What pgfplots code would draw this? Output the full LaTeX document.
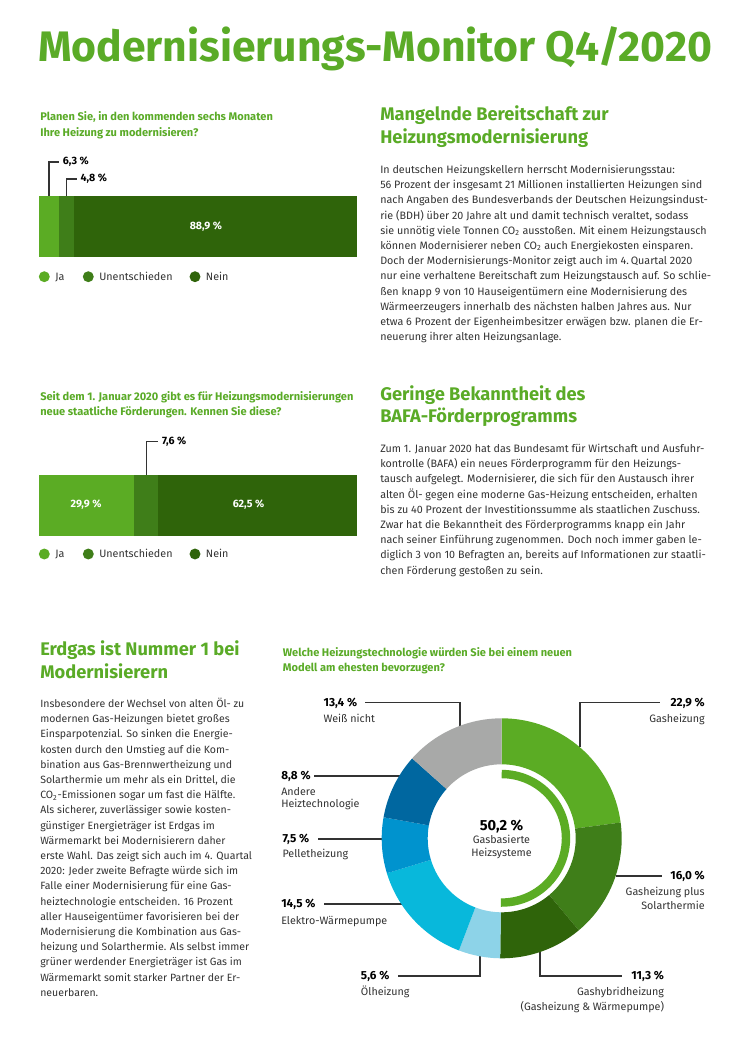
\documentclass[border=0pt]{standalone}
\usepackage{pgfplots}
\pgfplotsset{compat=1.18}
\usepackage{pgfplotstable}
\usepackage{fontspec}
\setmainfont{Fira Sans}
\definecolor{cJa}{HTML}{5BAC24}
\definecolor{cUnd}{HTML}{3F7E19}
\definecolor{cNein}{HTML}{2F640A}
\definecolor{cGas}{HTML}{5BAC24}
\definecolor{cGasSol}{HTML}{3F7E19}
\definecolor{cHyb}{HTML}{2F640A}
\definecolor{cOel}{HTML}{8DD3E8}
\definecolor{cWP}{HTML}{08B8DB}
\definecolor{cPel}{HTML}{0093CE}
\definecolor{cAnd}{HTML}{0067A0}
\definecolor{cWn}{HTML}{A8A9A8}
\definecolor{cTxt}{HTML}{333333}
\definecolor{cTitle}{HTML}{5AAB27}

\pgfplotstableread{
label value col
Gasheizung 22.9 cGas
GasSolar 16.0 cGasSol
Gashybrid 11.3 cHyb
Oel 5.6 cOel
Waermepumpe 14.5 cWP
Pellet 7.5 cPel
Andere 8.8 cAnd
Weissnicht 13.4 cWn
}\donutdata

\newcommand{\body}{\fontsize{8.05}{11.4}\selectfont\color{cTxt}}
\newcommand{\bodyL}{\fontsize{7.9}{11.4}\selectfont\color{cTxt}}
\newcommand{\qfont}{\fontsize{8.3}{11.7}\selectfont\bfseries\color{cTitle}}
\newcommand{\hfont}{\fontsize{13.7}{16.6}\selectfont\bfseries\color{cTitle}}
\newcommand{\vfont}{\fontsize{8.8}{9}\selectfont\bfseries\color{black}}
\newcommand{\bfont}{\fontsize{8}{9}\selectfont\bfseries}
\newcommand{\lfont}{\fontsize{8.05}{9}\selectfont\color{cTxt}}

\begin{document}
\begin{tikzpicture}[x=0.75pt,y=-0.75pt]
\path[use as bounding box, fill=white] (0,0) rectangle (746,1056);
\coordinate (bar1) at (39,257);
\coordinate (bar2) at (39,535.5);
\coordinate (donut) at (501.7,838.3);

% Title
\node[anchor=base west, inner sep=0, font=\fontsize{32}{36}\selectfont\bfseries, text=cTitle] at (38,62) {Modernisierungs-Monitor Q4/2020};

% ---------- Question 1 ----------
\node[anchor=base west, inner sep=0, align=left, font=\qfont] at (40,136.1) {Planen Sie, in den kommenden sechs Monaten\\Ihre Heizung zu modernisieren?};

\begin{axis}[at={(bar1)}, anchor=south west, scale only axis, width=238.5pt, height=45.75pt,
  xmin=0, xmax=100, ymin=0, ymax=1, hide axis, xbar stacked, bar width=45.75pt, clip=false]
\addplot[fill=cJa, draw=none] coordinates {(6.3,0.5)};
\addplot[fill=cUnd, draw=none] coordinates {(4.8,0.5)};
\addplot[fill=cNein, draw=none] coordinates {(88.9,0.5)};
\coordinate (l1) at (axis cs:52.5,0.5);
\draw[line width=0.9pt, cTxt] (axis cs:3.15,1) -- ++(0,25.5pt) -- ++(7.5pt,0) node[right, inner sep=2.5pt, font=\bfont, text=black] {6,3 \%};
\draw[line width=0.9pt, cTxt] (axis cs:8.7,1) -- ++(0,12.8pt) -- ++(7.5pt,0) node[right, inner sep=2.5pt, font=\bfont, text=black] {4,8 \%};
\end{axis}
\node[text=white, font=\bfont] at (l1) {88,9 \%};

% legend 1
\fill[cJa] (44.3,276.7) circle[radius=4.1pt];
\node[anchor=base west, inner sep=0, font=\lfont] at (55,280.3) {Ja};
\fill[cUnd] (88.3,276.7) circle[radius=4.1pt];
\node[anchor=base west, inner sep=0, font=\lfont] at (99,280.3) {Unentschieden};
\fill[cNein] (195,276.7) circle[radius=4.1pt];
\node[anchor=base west, inner sep=0, font=\lfont] at (205.7,280.3) {Nein};

% ---------- Question 2 ----------
\node[anchor=base west, inner sep=0, align=left, font=\qfont] at (40,415.6) {Seit dem 1. Januar 2020 gibt es für Heizungsmodernisierungen\\neue staatliche Förderungen. Kennen Sie diese?};

\begin{axis}[at={(bar2)}, anchor=south west, scale only axis, width=238.5pt, height=45.75pt,
  xmin=0, xmax=100, ymin=0, ymax=1, hide axis, xbar stacked, bar width=45.75pt, clip=false]
\addplot[fill=cJa, draw=none] coordinates {(29.9,0.5)};
\addplot[fill=cUnd, draw=none] coordinates {(7.6,0.5)};
\addplot[fill=cNein, draw=none] coordinates {(62.5,0.5)};
\coordinate (l2) at (axis cs:14.8,0.5);
\coordinate (l3) at (axis cs:65.9,0.5);
\draw[line width=0.9pt, cTxt] (axis cs:33.7,1) -- ++(0,24.8pt) -- ++(9pt,0) node[right, inner sep=2.5pt, font=\bfont, text=black] {7,6 \%};
\end{axis}
\node[text=white, font=\bfont] at (l2) {29,9 \%};
\node[text=white, font=\bfont] at (l3) {62,5 \%};

% legend 2
\fill[cJa] (44.3,554) circle[radius=4.1pt];
\node[anchor=base west, inner sep=0, font=\lfont] at (55,557.6) {Ja};
\fill[cUnd] (88.3,554) circle[radius=4.1pt];
\node[anchor=base west, inner sep=0, font=\lfont] at (99,557.6) {Unentschieden};
\fill[cNein] (195,554) circle[radius=4.1pt];
\node[anchor=base west, inner sep=0, font=\lfont] at (205.7,557.6) {Nein};

% ---------- Right column texts ----------
\node[anchor=base west, inner sep=0, align=left, font=\hfont] at (380,143.1) {Mangelnde Bereitschaft zur\\Heizungsmodernisierung};
\node[anchor=base west, inner sep=0, align=left, font=\body] at (380,340.7) {In deutschen Heizungskellern herrscht Modernisierungsstau:\\
56 Prozent der insgesamt 21 Millionen installierten Heizungen sind\\
nach Angaben des Bundesverbands der Deutschen Heizungsindust-\\
rie (BDH) über 20 Jahre alt und damit technisch veraltet, sodass\\
sie unnötig viele Tonnen CO\textsubscript{2} ausstoßen. Mit einem Heizungstausch\\
können Modernisierer neben CO\textsubscript{2} auch Energiekosten einsparen.\\
Doch der Modernisierungs-Monitor zeigt auch im 4.\,Quartal 2020\\
nur eine verhaltene Bereitschaft zum Heizungstausch auf. So schlie-\\
ßen knapp 9 von 10 Hauseigentümern eine Modernisierung des\\
Wärmeerzeugers innerhalb des nächsten halben Jahres aus. Nur\\
etwa 6 Prozent der Eigenheimbesitzer erwägen bzw. planen die Er-\\
neuerung ihrer alten Heizungsanlage.};

\node[anchor=base west, inner sep=0, align=left, font=\hfont] at (380,422.6) {Geringe Bekanntheit des\\BAFA-Förderprogramms};
\node[anchor=base west, inner sep=0, align=left, font=\body] at (380,574.1) {Zum 1. Januar 2020 hat das Bundesamt für Wirtschaft und Ausfuhr-\\
kontrolle (BAFA) ein neues Förderprogramm für den Heizungs-\\
tausch aufgelegt. Modernisierer, die sich für den Austausch ihrer\\
alten Öl- gegen eine moderne Gas-Heizung entscheiden, erhalten\\
bis zu 40 Prozent der Investitionssumme als staatlichen Zuschuss.\\
Zwar hat die Bekanntheit des Förderprogramms knapp ein Jahr\\
nach seiner Einführung zugenommen. Doch noch immer gaben le-\\
diglich 3 von 10 Befragten an, bereits auf Informationen zur staatli-\\
chen Förderung gestoßen zu sein.};

% ---------- Left bottom text ----------
\node[anchor=base west, inner sep=0, align=left, font=\hfont] at (40,678.1) {Erdgas ist Nummer 1 bei\\Modernisierern};
\node[anchor=base west, inner sep=0, align=left, font=\bodyL] at (40,996.3) {Insbesondere der Wechsel von alten Öl- zu\\
modernen Gas-Heizungen bietet großes\\
Einsparpotenzial. So sinken die Energie-\\
kosten durch den Umstieg auf die Kom-\\
bination aus Gas-Brennwertheizung und\\
Solarthermie um mehr als ein Drittel, die\\
CO\textsubscript{2}-Emissionen sogar um fast die Hälfte.\\
Als sicherer, zuverlässiger sowie kosten-\\
günstiger Energieträger ist Erdgas im\\
Wärmemarkt bei Modernisierern daher\\
erste Wahl. Das zeigt sich auch im 4. Quartal\\
2020: Jeder zweite Befragte würde sich im\\
Falle einer Modernisierung für eine Gas-\\
heiztechnologie entscheiden. 16 Prozent\\
aller Hauseigentümer favorisieren bei der\\
Modernisierung die Kombination aus Gas-\\
heizung und Solarthermie. Als selbst immer\\
grüner werdender Energieträger ist Gas im\\
Wärmemarkt somit starker Partner der Er-\\
neuerbaren.};

% ---------- Question 3 / donut ----------
\node[anchor=base west, inner sep=0, align=left, font=\qfont] at (282.7,671.6) {Welche Heizungstechnologie würden Sie bei einem neuen\\Modell am ehesten bevorzugen?};

% callout lines
\draw[line width=0.9pt, cTxt] (580,747) -- (580,702.7) -- (660,702.7);
\draw[line width=0.9pt, cTxt] (460,725.5) -- (460,702.7) -- (365,702.7);
\draw[line width=0.9pt, cTxt] (400,776) -- (314.3,776);
\draw[line width=0.9pt, cTxt] (382.5,839) -- (317.7,839);
\draw[line width=0.9pt, cTxt] (615.5,876) -- (661.7,876);
\draw[line width=0.9pt, cTxt] (401.5,904) -- (324.3,904);
\draw[line width=0.9pt, cTxt] (480,956) -- (480,976) -- (397.7,976);
\draw[line width=0.9pt, cTxt] (540,951.7) -- (540,976) -- (621.7,976);

\begin{axis}[at={(donut)}, anchor=center, scale only axis, width=180pt, height=180pt,
  xmin=-1, xmax=1, ymin=-1, ymax=1, hide axis, clip=false]
\addplot[draw=none, forget plot] coordinates {(0,0)};
\def\cum{0}
\pgfplotsforeachungrouped \i in {0,...,7}{%
  \pgfplotstablegetelem{\i}{value}\of\donutdata \let\val\pgfplotsretval
  \pgfplotstablegetelem{\i}{col}\of\donutdata \let\col\pgfplotsretval
  \pgfmathsetmacro\a{90-3.6*\cum}%
  \pgfmathsetmacro\b{90-3.6*(\cum+\val)}%
  \edef\temp{\noexpand\fill[\col] (axis cs:0,0) ++(\a:90pt) arc[start angle=\a, end angle=\b, radius=90pt] -- ++(\b:-34.5pt) arc[start angle=\b, end angle=\a, radius=55.5pt] -- cycle;}%
  \temp
  \pgfmathsetmacro\cum{\cum+\val}%
}
% inner arc: gas-based share 50.2
\pgfmathsetmacro\gasend{90-3.6*50.2}
\edef\temp{\noexpand\draw[cGas, line width=6.3pt] (axis cs:0,0) ++(90:48.2pt) arc[start angle=90, end angle=\gasend, radius=48.2pt];}
\temp
\end{axis}

% centre text
\node[anchor=base, inner sep=0, font=\fontsize{11}{12}\selectfont\bfseries, text=black] at (501.5,830) {50,2 \%};
\node[anchor=base, inner sep=0, font=\lfont] at (501.5,843.5) {Gasbasierte};
\node[anchor=base, inner sep=0, font=\lfont] at (501.5,856) {Heizsysteme};

% labels
\node[anchor=base west, inner sep=0, font=\vfont] at (323.3,706.5) {13,4 \%};
\node[anchor=base west, inner sep=0, font=\lfont] at (323.3,722.5) {Weiß nicht};
\node[anchor=base east, inner sep=0, font=\vfont] at (705,706.5) {22,9 \%};
\node[anchor=base east, inner sep=0, font=\lfont] at (705,722.5) {Gasheizung};
\node[anchor=base west, inner sep=0, font=\vfont] at (281,779.7) {8,8 \%};
\node[anchor=base west, inner sep=0, font=\lfont] at (281,795.2) {Andere};
\node[anchor=base west, inner sep=0, font=\lfont] at (281,807.5) {Heiztechnologie};
\node[anchor=base west, inner sep=0, font=\vfont] at (282.3,842.7) {7,5 \%};
\node[anchor=base west, inner sep=0, font=\lfont] at (282.3,857.8) {Pelletheizung};
\node[anchor=base east, inner sep=0, font=\vfont] at (705,879.7) {16,0 \%};
\node[anchor=base east, inner sep=0, font=\lfont] at (705,895.2) {Gasheizung plus};
\node[anchor=base east, inner sep=0, font=\lfont] at (705,909.5) {Solarthermie};
\node[anchor=base west, inner sep=0, font=\vfont] at (281,907.7) {14,5 \%};
\node[anchor=base west, inner sep=0, font=\lfont] at (281,924.2) {Elektro-Wärmepumpe};
\node[anchor=base west, inner sep=0, font=\vfont] at (360.7,979.7) {5,6 \%};
\node[anchor=base west, inner sep=0, font=\lfont] at (360.7,995.2) {Ölheizung};
\node[anchor=base east, inner sep=0, font=\vfont] at (664.3,979.7) {11,3 \%};
\node[anchor=base east, inner sep=0, font=\lfont] at (664.3,995.2) {Gashybridheizung};
\node[anchor=base east, inner sep=0, font=\lfont] at (664.3,1010.8) {(Gasheizung \& Wärmepumpe)};
\end{tikzpicture}
\end{document}
